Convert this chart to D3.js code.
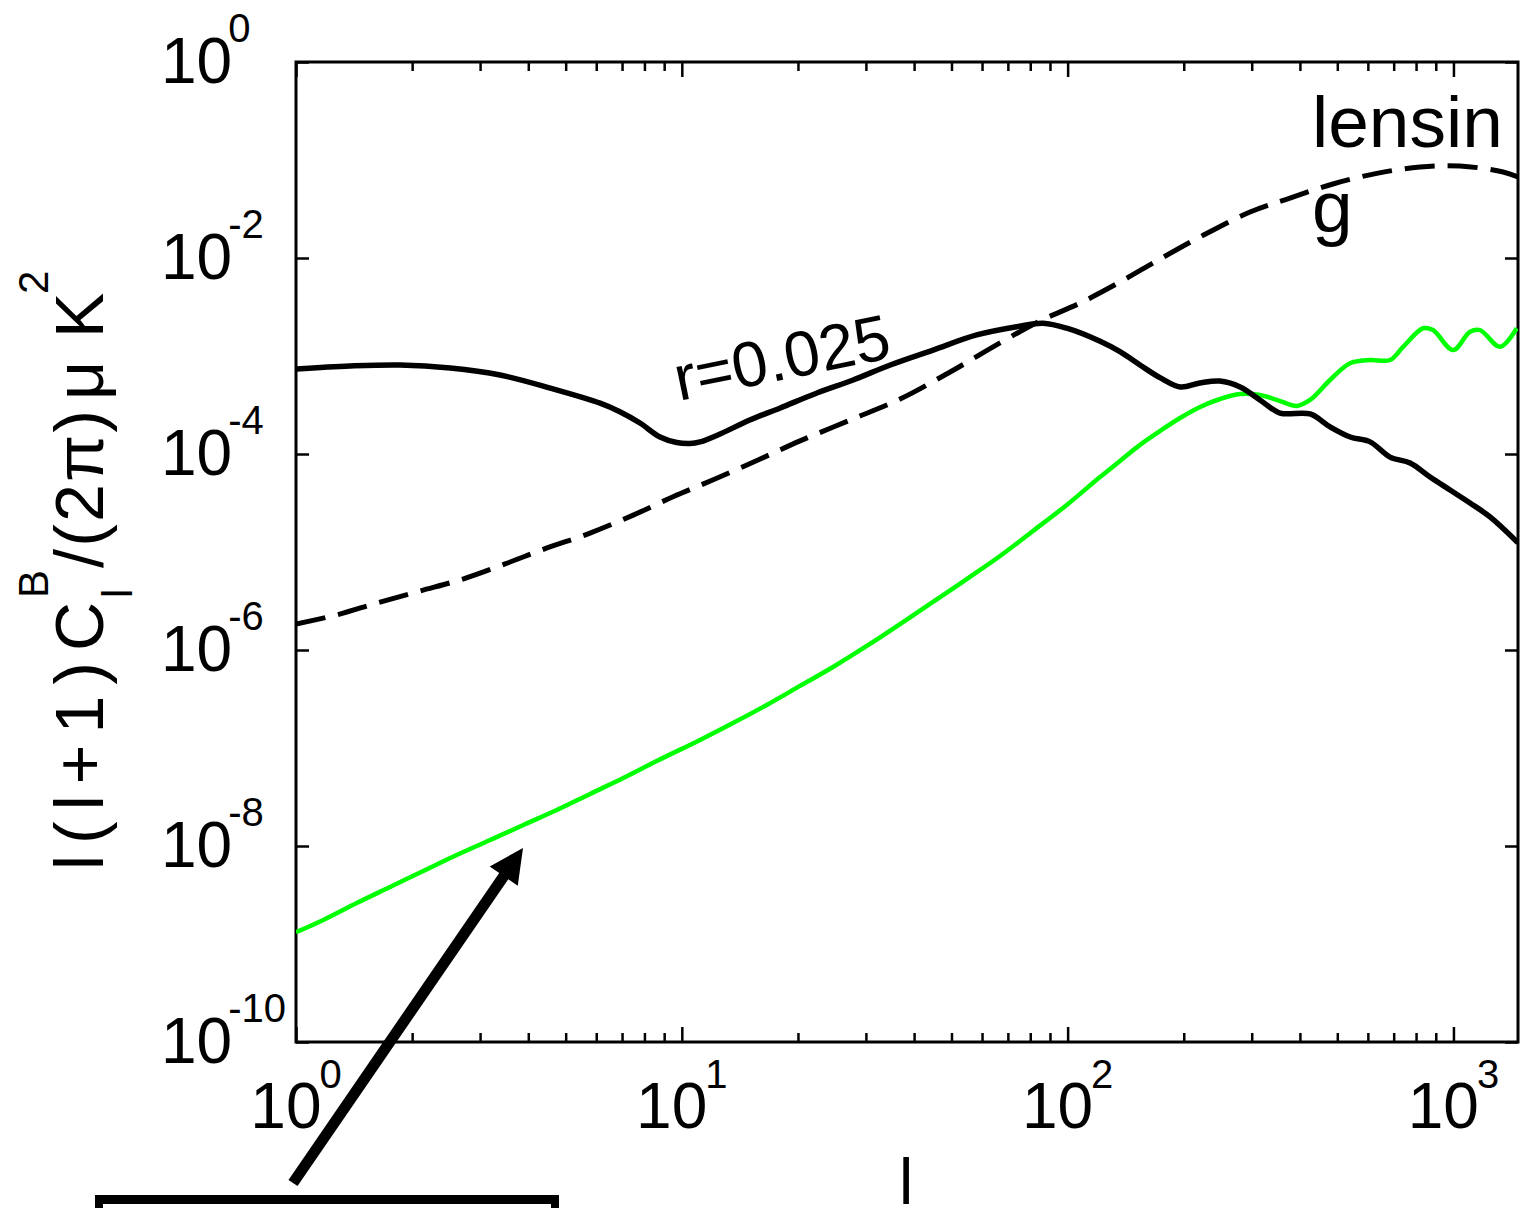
<!DOCTYPE html>
<html>
<head>
<meta charset="utf-8">
<script src="https://cdn.jsdelivr.net/npm/d3@7/dist/d3.min.js"></script>
<style>
  body { margin: 0; background: #fff; }
  svg text { font-family: "Liberation Sans", Arial, sans-serif; fill: #000; }
</style>
</head>
<body>
<div id="chart"></div>
<script>
// ---- data (multipole l, l(l+1)C_l/2pi in uK^2) ----
// tensor B-mode, r = 0.025 (solid black)
const tensorL = [1, 1.38, 1.86, 2.51, 3.38, 4.56, 6.14, 6.91, 7.79, 8.78, 9.7, 10.5, 11.15, 12.56, 15.0, 18.0,
  22.4, 27.8, 34.7, 44.8, 58.1, 73.8, 86.4, 99.5, 121, 137, 154, 174, 196, 220, 248, 280, 315, 355,
  425, 479, 540, 608, 685, 772, 870, 980, 1104, 1244, 1470];
const tensorCl = [7.36e-4, 7.9e-4, 8.1e-4, 7.55e-4, 6.4e-4, 4.7e-4, 3.3e-4, 2.7e-4, 2.07e-4, 1.49e-4, 1.31e-4, 1.28e-4, 1.33e-4, 1.60e-4, 2.22e-4, 2.95e-4,
  4.19e-4, 5.69e-4, 8.1e-4, 1.15e-3, 1.64e-3, 1.99e-3, 2.16e-3, 1.92e-3, 1.42e-3, 1.10e-3, 8.1e-4, 5.97e-4, 4.83e-4, 5.3e-4, 5.56e-4, 4.83e-4, 3.56e-4, 2.62e-4,
  2.56e-4, 1.89e-4, 1.49e-4, 1.33e-4, 9.3e-5, 8.1e-5, 5.82e-5, 4.29e-5, 3.16e-5, 2.28e-5, 1.24e-5];

// lensing B-mode (dashed black)
const lensingL = [1, 1.275, 1.631, 2.096, 2.709, 3.481, 4.473, 5.782, 7.43, 9.49, 12.19, 15.76, 20.25,
  27.3, 36.8, 49.6, 66.8, 84.8, 107.7, 136.7, 173.6, 220.4, 297, 377, 487, 633, 819, 1040, 1345, 1470];
const lensingCl = [1.84e-6, 2.28e-6, 3.04e-6, 4.0e-6, 5.3e-6, 7.55e-6, 1.10e-5, 1.56e-5, 2.35e-5, 3.66e-5, 5.56e-5, 8.69e-5, 1.36e-4,
  2.22e-4, 3.64e-4, 6.87e-4, 1.36e-3, 2.28e-3, 3.47e-3, 5.69e-3, 9.77e-3, 1.64e-2, 2.95e-2, 4.09e-2, 5.69e-2, 7.31e-2, 8.49e-2, 8.69e-2, 7.55e-2, 6.71e-2];

// third spectrum (green)
const greenL = [1, 1.177, 1.437, 1.753, 2.138, 2.609, 3.184, 3.884, 4.739, 5.782, 7.053, 8.608, 11.15, 13.57,
  16.6, 20.25, 24.66, 30.16, 36.78, 44.78, 54.76, 66.81, 81.35, 99.5, 121.3, 136.7, 154, 173.6, 195.6,
  220.4, 248.3, 279.8, 315.3, 355.3, 392.6, 424.9, 478.8, 539.5, 607.9, 684.9, 740.4, 834.2, 885.4,
  997.7, 1104, 1172, 1321, 1459];
const greenCl = [1.32e-9, 1.76e-9, 2.62e-9, 3.82e-9, 5.56e-9, 8.09e-9, 1.15e-8, 1.64e-8, 2.33e-8, 3.40e-8, 4.94e-8, 7.36e-8, 1.21e-7, 1.80e-7,
  2.75e-7, 4.30e-7, 6.71e-7, 1.10e-6, 1.84e-6, 3.09e-6, 5.30e-6, 9.10e-6, 1.64e-5, 3.02e-5, 5.82e-5, 8.49e-5, 1.24e-4, 1.72e-4, 2.33e-4,
  3.02e-4, 3.64e-4, 4.09e-4, 4.00e-4, 3.47e-4, 3.09e-4, 3.56e-4, 5.69e-4, 8.43e-4, 9.10e-4, 9.10e-4, 1.24e-3, 1.92e-3, 1.84e-3,
  1.15e-3, 1.77e-3, 1.84e-3, 1.24e-3, 1.92e-3];

// tick values
const xMajor = [1, 10, 100, 1000];
const xMajorExp = ["0", "1", "2", "3"];
const yMajor = [1, 1e-2, 1e-4, 1e-6, 1e-8, 1e-10];
const yMajorExp = ["0", "-2", "-4", "-6", "-8", "-10"];

// ---- layout ----
const W = 1520, H = 1208;
const plotL = 296, plotR = 1518, plotT = 62, plotB = 1042;

const svg = d3.select("#chart").append("svg")
  .attr("width", W).attr("height", H);

const x = d3.scaleLog().domain([1, 1470]).range([plotL, plotR]);
const y = d3.scaleLog().domain([1e-10, 1]).range([plotB, plotT]);

// minor ticks 2..9 per decade
const xMinor = [];
[1, 10, 100, 1000].forEach(d => {
  for (let k = 2; k <= 9; k++) if (d * k < 1470) xMinor.push(d * k);
});

// clip for the curves
svg.append("clipPath").attr("id", "plotclip")
  .append("rect").attr("x", plotL).attr("y", plotT)
  .attr("width", plotR - plotL).attr("height", plotB - plotT);

// axes (ticks only, frame drawn separately)
function styleAxis(g) {
  g.select(".domain").remove();
  g.selectAll(".tick line").attr("stroke", "#000").attr("stroke-width", 2.5);
  g.selectAll(".tick text").remove();
}
svg.append("g").attr("transform", `translate(0,${plotB})`)
  .call(d3.axisBottom(x).tickValues(xMajor).tickSize(-15)).call(styleAxis);
svg.append("g").attr("transform", `translate(0,${plotB})`)
  .call(d3.axisBottom(x).tickValues(xMinor).tickSize(-9)).call(styleAxis);
svg.append("g").attr("transform", `translate(0,${plotT})`)
  .call(d3.axisTop(x).tickValues(xMajor).tickSize(-15)).call(styleAxis);
svg.append("g").attr("transform", `translate(0,${plotT})`)
  .call(d3.axisTop(x).tickValues(xMinor).tickSize(-9)).call(styleAxis);
svg.append("g").attr("transform", `translate(${plotL},0)`)
  .call(d3.axisLeft(y).tickValues(yMajor).tickSize(-13)).call(styleAxis);
svg.append("g").attr("transform", `translate(${plotR},0)`)
  .call(d3.axisRight(y).tickValues(yMajor).tickSize(-13)).call(styleAxis);

// frame
svg.append("rect")
  .attr("x", plotL).attr("y", plotT)
  .attr("width", plotR - plotL).attr("height", plotB - plotT)
  .attr("fill", "none").attr("stroke", "#000").attr("stroke-width", 3);

// curves
const line = d3.line()
  .x(d => x(d[0]))
  .y(d => y(d[1]))
  .curve(d3.curveCatmullRom.alpha(0.5));

const curves = svg.append("g").attr("clip-path", "url(#plotclip)");

curves.append("path")
  .datum(greenL.map((l, i) => [l, greenCl[i]]))
  .attr("d", line)
  .attr("fill", "none").attr("stroke", "#00ff00").attr("stroke-width", 4.5);

curves.append("path")
  .datum(lensingL.map((l, i) => [l, lensingCl[i]]))
  .attr("d", line)
  .attr("fill", "none").attr("stroke", "#000").attr("stroke-width", 5)
  .attr("stroke-dasharray", "30,13");

curves.append("path")
  .datum(tensorL.map((l, i) => [l, tensorCl[i]]))
  .attr("d", line)
  .attr("fill", "none").attr("stroke", "#000").attr("stroke-width", 5.5);

// tick labels: 10 with superscript exponent
yMajor.forEach((v, i) => {
  const t = svg.append("text")
    .attr("x", 161).attr("y", y(v) + 21)
    .style("font-size", "64px");
  t.append("tspan").text("10");
  t.append("tspan").attr("dx", -4).attr("dy", -41)
    .style("font-size", "40px").text(yMajorExp[i]);
});

xMajor.forEach((v, i) => {
  const t = svg.append("text")
    .attr("x", x(v)).attr("y", 1128)
    .attr("text-anchor", "middle")
    .style("font-size", "64px");
  t.append("tspan").text("10");
  t.append("tspan").attr("dx", -2).attr("dy", -40)
    .style("font-size", "40px").text(xMajorExp[i]);
});

// axis titles
svg.append("text")
  .attr("x", 906).attr("y", 1204)
  .attr("text-anchor", "middle")
  .style("font-size", "64px")
  .text("l");

const ylab = svg.append("g").attr("transform", "translate(103,870) rotate(-90)");
ylab.append("text").attr("x", 0).attr("y", 0)
  .attr("textLength", 268).attr("lengthAdjust", "spacing")
  .style("font-size", "68px").text("l(l+1)C");
ylab.append("text").attr("x", 272).attr("y", 29)
  .style("font-size", "42px").text("l");
ylab.append("text").attr("x", 272).attr("y", -55)
  .style("font-size", "42px").text("B");
ylab.append("text").attr("x", 302).attr("y", 0)
  .attr("textLength", 158).attr("lengthAdjust", "spacing")
  .style("font-size", "68px").text("/(2\u03C0)");
ylab.append("text").attr("x", 470).attr("y", 0)
  .style("font-size", "68px").text("\u03BC");
ylab.append("text").attr("x", 532).attr("y", 0)
  .style("font-size", "68px").text("K");
ylab.append("text").attr("x", 576).attr("y", -55)
  .style("font-size", "42px").text("2");

// curve annotations
svg.append("text")
  .attr("x", 1312).attr("y", 147)
  .style("font-size", "73px").text("lensin");
svg.append("text")
  .attr("x", 1312).attr("y", 232)
  .style("font-size", "73px").text("g");
svg.append("text")
  .attr("transform", "translate(679,401) rotate(-11.5)")
  .style("font-size", "64px").text("r=0.025");

// arrow pointing to the green curve
const tail = [293, 1183], tip = [523, 848];
const adx = tip[0] - tail[0], ady = tip[1] - tail[1];
const alen = Math.hypot(adx, ady);
const ux = adx / alen, uy = ady / alen, nx = -uy, ny = ux;
const headLen = 34, headHalf = 17, shaftHalf = 5.5;
const bx = tip[0] - ux * headLen, by = tip[1] - uy * headLen;
svg.append("polygon")
  .attr("points", [
    [tail[0] + nx * shaftHalf, tail[1] + ny * shaftHalf],
    [bx + nx * shaftHalf, by + ny * shaftHalf],
    [bx + nx * headHalf, by + ny * headHalf],
    tip,
    [bx - nx * headHalf, by - ny * headHalf],
    [bx - nx * shaftHalf, by - ny * shaftHalf],
    [tail[0] - nx * shaftHalf, tail[1] - ny * shaftHalf]
  ].map(p => p.join(",")).join(" "))
  .attr("fill", "#000");

// bar at the bottom edge
svg.append("path")
  .attr("d", "M95,1195 H559 V1208 H551 V1204 H103 V1208 H95 Z")
  .attr("fill", "#000");
</script>
</body>
</html>
